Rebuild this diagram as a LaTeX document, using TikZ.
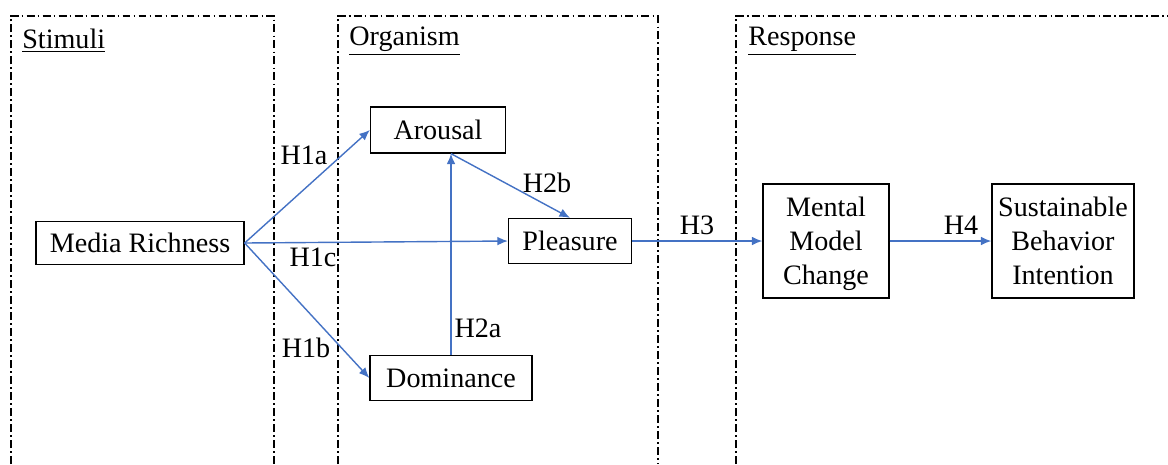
\documentclass[tikz,border=0pt]{standalone}
\usepackage{fontspec}
\newfontfamily\tnr{Liberation Serif}
\usetikzlibrary{arrows.meta}
\definecolor{linkblue}{RGB}{68,114,196}
\tikzset{stageframe/.style={draw,line width=0.6pt,dash pattern=on 4.5pt off 1.8pt on 1pt off 1.8pt}}
\tikzset{bx/.style={draw,line width=0.75pt,inner sep=0pt,align=center,font=\tnr\fontsize{16}{19.3}\selectfont}}
\tikzset{link/.style={draw,linkblue,line width=0.8pt,-{Latex[length=6pt,width=5pt]}}}
\tikzset{hyp/.style={font=\tnr\fontsize{16}{19.3}\selectfont,inner sep=0pt}}
\tikzset{stagetitle/.style={anchor=west,inner sep=0pt,font=\tnr\fontsize{16}{19.3}\selectfont}}

\begin{document}
\begin{tikzpicture}[x=0.02cm,y=-0.02cm]
  \useasboundingbox (0,0) rectangle (1168,464);
  % stage frames, open at the bottom
  \draw[stageframe] (11,464) -- (11,16) -- (274,16) -- (274,464);
  \draw[stageframe] (338,464) -- (338,16) -- (658,16) -- (658,464);
  \draw[stageframe] (736,464) -- (736,16) -- (1168,16);
  \node[stagetitle] (stim) at (22,41) {\underline{Stimuli}};
  \node[stagetitle] (orga) at (349,41) {\underline{Organism}};
  \node[stagetitle] (resp) at (748,41) {\underline{Response}};

  \node[bx,minimum width=208*0.02cm,minimum height=43*0.02cm] (med) at (140,243) {Media Richness};
  \node[bx,minimum width=135*0.02cm,minimum height=46*0.02cm] (aro) at (438,130) {Arousal};
  \node[bx,minimum width=123*0.02cm,minimum height=45*0.02cm] (ple) at (570,241) {Pleasure};
  \node[bx,minimum width=162*0.02cm,minimum height=45*0.02cm] (dom) at (451,378) {Dominance};
  \node[bx,text depth=0pt,minimum width=126*0.02cm,minimum height=114*0.02cm] (men) at (826,241) {Mental\\Model\\Change};
  \node[bx,text depth=0pt,minimum width=142*0.02cm,minimum height=114*0.02cm] (sus) at (1063,241) {Sustainable\\Behavior\\Intention};

  \coordinate (top) at (dom.north |- aro.south);
  \draw[link] (med.east) -- (aro.west);
  \draw[link] (med.east) -- (dom.west);
  \draw[link] (med.east) -- (ple.west);
  \draw[link] (dom.north) -- (top);
  \draw[link] (top) -- (ple.north);
  \draw[link] (ple.east) -- (men.west);
  \draw[link] (men.east) -- (sus.west);

  \node[hyp] (h1a) at (304,155) {H1a};
  \node[hyp] (h1c) at (313,257) {H1c};
  \node[hyp] (h1b) at (306,348) {H1b};
  \node[hyp] (h2a) at (478,328) {H2a};
  \node[hyp] (h2b) at (547,183) {H2b};
  \node[hyp] (h3) at (697,225) {H3};
  \node[hyp] (h4) at (961,225) {H4};
\end{tikzpicture}
\end{document}
